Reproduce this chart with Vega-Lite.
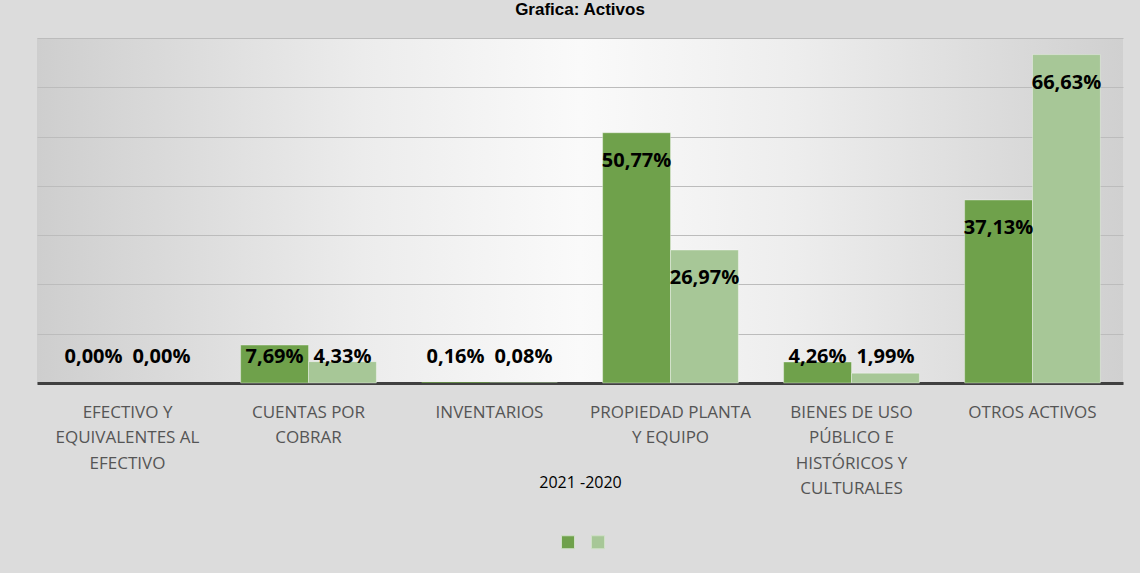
{
  "$schema": "https://vega.github.io/schema/vega-lite/v6.json",
  "width": 1086,
  "height": 345,
  "autosize": {"type": "none"},
  "padding": {"left": 37, "top": 38, "right": 17, "bottom": 190},
  "background": "#dcdcdc",
  "title": {"text": "Grafica: Activos", "anchor": "middle", "frame": "group", "offset": 6, "baseline": "alphabetic", "font": "Liberation Sans", "fontSize": 17, "fontWeight": "bold", "color": "#000000"},
  "data": {"values": [
    {"categoria": "EFECTIVO Y EQUIVALENTES AL EFECTIVO", "serie": "2021", "valor": 0.0},
    {"categoria": "EFECTIVO Y EQUIVALENTES AL EFECTIVO", "serie": "2020", "valor": 0.0},
    {"categoria": "CUENTAS POR COBRAR", "serie": "2021", "valor": 0.0769},
    {"categoria": "CUENTAS POR COBRAR", "serie": "2020", "valor": 0.0433},
    {"categoria": "INVENTARIOS", "serie": "2021", "valor": 0.0016},
    {"categoria": "INVENTARIOS", "serie": "2020", "valor": 0.0008},
    {"categoria": "PROPIEDAD PLANTA Y EQUIPO", "serie": "2021", "valor": 0.5077},
    {"categoria": "PROPIEDAD PLANTA Y EQUIPO", "serie": "2020", "valor": 0.2697},
    {"categoria": "BIENES DE USO PÚBLICO E HISTÓRICOS Y CULTURALES", "serie": "2021", "valor": 0.0426},
    {"categoria": "BIENES DE USO PÚBLICO E HISTÓRICOS Y CULTURALES", "serie": "2020", "valor": 0.0199},
    {"categoria": "OTROS ACTIVOS", "serie": "2021", "valor": 0.3713},
    {"categoria": "OTROS ACTIVOS", "serie": "2020", "valor": 0.6663}
  ]},
  "encoding": {
    "x": {
      "field": "categoria", "type": "nominal", "sort": null,
      "scale": {"paddingInner": 0.25, "paddingOuter": 0.125},
      "axis": {
        "title": "2021 -2020", "titleFont": "Open Sans", "titleFontSize": 16, "titleFontWeight": "normal", "titleColor": "#000000", "titleY": 99, "titleBaseline": "middle",
        "labelExpr": "datum.label == 'EFECTIVO Y EQUIVALENTES AL EFECTIVO' ? ['EFECTIVO Y','EQUIVALENTES AL','EFECTIVO'] : datum.label == 'CUENTAS POR COBRAR' ? ['CUENTAS POR','COBRAR'] : datum.label == 'PROPIEDAD PLANTA Y EQUIPO' ? ['PROPIEDAD PLANTA','Y EQUIPO'] : datum.label == 'BIENES DE USO PÚBLICO E HISTÓRICOS Y CULTURALES' ? ['BIENES DE USO','PÚBLICO E','HISTÓRICOS Y','CULTURALES'] : datum.label",
        "labelFont": "Open Sans", "labelFontSize": 17, "labelColor": "#555555", "labelLineHeight": 25.5, "labelPadding": 21, "labelBaseline": "top", "labelAngle": 0, "labelAlign": "center", "labelLimit": 0, "labelOverlap": false,
        "ticks": false, "domainColor": "#404040", "domainWidth": 3, "grid": false
      }
    },
    "xOffset": {"field": "serie", "type": "nominal", "sort": ["2021", "2020"], "scale": {"paddingInner": 0, "paddingOuter": 0}},
    "y": {
      "field": "valor", "type": "quantitative",
      "scale": {"domain": [0, 0.7], "nice": false},
      "axis": {"title": null, "labels": false, "ticks": false, "domain": false, "grid": true, "gridColor": "#bcbcbc", "gridWidth": 1.2, "values": [0, 0.1, 0.2, 0.3, 0.4, 0.5, 0.6, 0.7]}
    }
  },
  "layer": [
    {
      "mark": {"type": "bar", "stroke": "#ffffff", "strokeWidth": 1},
      "encoding": {
        "strokeOpacity": {"condition": {"test": "datum.valor < 0.005", "value": 0}, "value": 0.35},
        "color": {
          "field": "serie", "type": "nominal", "sort": ["2021", "2020"],
          "scale": {"domain": ["2021", "2020"], "range": ["#6fa14b", "#a7c797"]},
          "legend": {"orient": "none", "legendX": 524, "legendY": 497, "direction": "horizontal", "title": null, "labelExpr": "''", "symbolType": "square", "symbolSize": 169, "symbolStrokeWidth": 1, "symbolStrokeColor": "#cfe0c6", "symbolOpacity": 1, "labelOffset": 0, "columnPadding": 12, "padding": 0}
        }
      }
    },
    {
      "transform": [{"filter": "datum.valor >= 0.1"}],
      "mark": {"type": "text", "dy": 28, "baseline": "middle", "align": "center", "font": "Open Sans", "fontSize": 20, "fontWeight": "bold", "color": "#000000"},
      "encoding": {"text": {"field": "valor", "type": "quantitative", "format": ".2%"}}
    },
    {
      "transform": [{"filter": "datum.valor < 0.1"}],
      "mark": {"type": "text", "baseline": "middle", "align": "center", "font": "Open Sans", "fontSize": 20, "fontWeight": "bold", "color": "#000000"},
      "encoding": {"y": {"datum": 0.053}, "text": {"field": "valor", "type": "quantitative", "format": ".2%"}}
    }
  ],
  "config": {
    "locale": {"number": {"decimal": ",", "thousands": ".", "grouping": [3], "currency": ["", "€"]}},
    "view": {"stroke": null, "fill": {"gradient": "linear", "x1": 0, "y1": 0, "x2": 1, "y2": 0, "stops": [{"offset": 0, "color": "#cecece"}, {"offset": 0.3, "color": "#ececec"}, {"offset": 0.5, "color": "#fafafa"}, {"offset": 0.7, "color": "#ededed"}, {"offset": 1, "color": "#d0d0d0"}]}}
  }
}
